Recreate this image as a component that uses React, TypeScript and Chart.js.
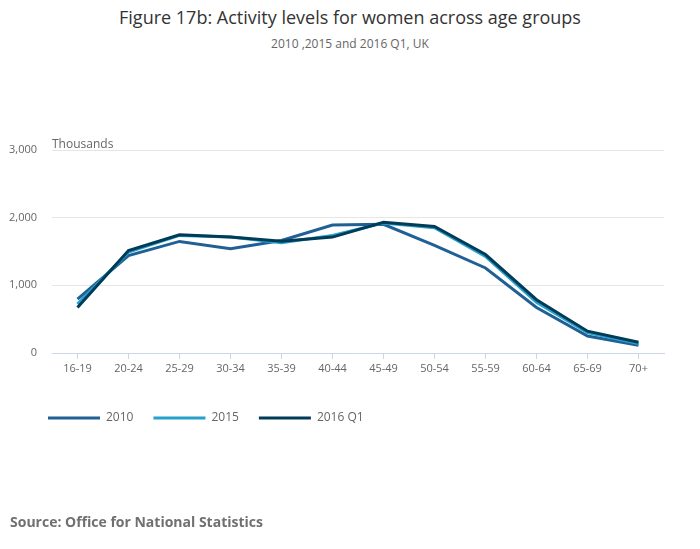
import { useEffect, useRef } from "react"
import { Chart, registerables } from "chart.js"
import type { Plugin } from "chart.js"

Chart.register(...registerables)

const ageGroups = ["16-19", "20-24", "25-29", "30-34", "35-39", "40-44", "45-49", "50-54", "55-59", "60-64", "65-69", "70+"]
const values2010 = [797, 1441, 1649, 1540, 1663, 1891, 1901, 1589, 1257, 673, 252, 114]
const values2015 = [723, 1490, 1738, 1713, 1629, 1738, 1921, 1851, 1426, 748, 302, 139]
const values2016Q1 = [673, 1515, 1748, 1713, 1653, 1713, 1931, 1871, 1455, 787, 322, 158]
const yTicks = [0, 1000, 2000, 3000]

const FONT = "'Open Sans', sans-serif"

// nudge the legend so it lines up under the plot like the original
const shiftLegend: Plugin = {
  id: "shiftLegend",
  afterLayout(chart) {
    const legend = chart.legend
    if (legend) {
      legend.left += 28
      legend.right += 28
    }
  },
}

export default function App() {
  const chartRef = useRef<HTMLCanvasElement>(null)
  const chartInstance = useRef<Chart | null>(null)

  useEffect(() => {
    if (!chartRef.current) return
    if (chartInstance.current) chartInstance.current.destroy()
    const ctx = chartRef.current.getContext("2d")
    if (!ctx) return

    chartInstance.current = new Chart(ctx, {
      type: "line",
      data: {
        labels: ageGroups,
        datasets: [
          { label: "2010", data: values2010, borderColor: "#206095", backgroundColor: "#206095", order: 3 },
          { label: "2015", data: values2015, borderColor: "#27a0cc", backgroundColor: "#27a0cc", order: 2 },
          { label: "2016 Q1", data: values2016Q1, borderColor: "#003c57", backgroundColor: "#003c57", order: 1 },
        ],
      },
      plugins: [shiftLegend],
      options: {
        animation: false,
        responsive: false,
        maintainAspectRatio: false,
        elements: {
          line: { borderWidth: 3, tension: 0 },
          point: { radius: 0, hoverRadius: 0 },
        },
        layout: { padding: { top: 150, left: 0, right: 36, bottom: 115 } },
        plugins: {
          tooltip: { enabled: false },
          legend: {
            position: "bottom",
            align: "start",
            labels: {
              boxWidth: 52,
              boxHeight: 3,
              padding: 20,
              color: "#666666",
              font: { family: FONT, size: 12 },
              generateLabels: (chart) =>
                chart.data.datasets.map((ds, i) => ({
                  text: ds.label as string,
                  fillStyle: ds.borderColor as string,
                  strokeStyle: ds.borderColor as string,
                  lineWidth: 0,
                  hidden: false,
                  datasetIndex: i,
                  fontColor: "#666666",
                })),
            },
          },
        },
        scales: {
          x: {
            offset: true,
            border: { display: true, color: "#ccd6eb", width: 1 },
            grid: { offset: false, drawOnChartArea: false, drawTicks: true, tickLength: 6, color: "#ccd6eb" },
            ticks: { color: "#666666", padding: 3, font: { family: FONT, size: 11 }, maxRotation: 0 },
            afterFit: (scale) => {
              scale.height = 39
            },
          },
          y: {
            min: 0,
            max: 3000,
            border: { display: false },
            grid: { color: "#e6e6e6", drawTicks: false },
            afterBuildTicks: (scale) => {
              scale.ticks = yTicks.map((v) => ({ value: v }))
            },
            ticks: {
              color: "#666666",
              padding: 15,
              font: { family: FONT, size: 11 },
              callback: (v) => Number(v).toLocaleString("en-US"),
            },
            afterFit: (scale) => {
              scale.width = 52
            },
          },
        },
      },
    })

    return () => {
      if (chartInstance.current) chartInstance.current.destroy()
    }
  }, [])

  return (
    <div style={{ position: "absolute", left: 0, top: 0, width: 700, height: 549, background: "#fff", fontFamily: FONT }}>
      <div style={{ position: "absolute", top: 5, left: 0, width: 700, textAlign: "center", fontSize: 18, color: "#333333" }}>
        Figure 17b: Activity levels for women across age groups
      </div>
      <div style={{ position: "absolute", top: 35, left: 0, width: 700, textAlign: "center", fontSize: 12, color: "#666666" }}>
        2010 ,2015 and 2016 Q1, UK
      </div>
      <canvas ref={chartRef} width={700} height={549} style={{ position: "absolute", left: 0, top: 0 }} />
      <div style={{ position: "absolute", top: 135, left: 52, fontSize: 12, color: "#666666" }}>Thousands</div>
      <div style={{ position: "absolute", top: 512, left: 10, fontSize: 14, fontWeight: "bold", color: "#707070" }}>
        Source: Office for National Statistics
      </div>
    </div>
  )
}
